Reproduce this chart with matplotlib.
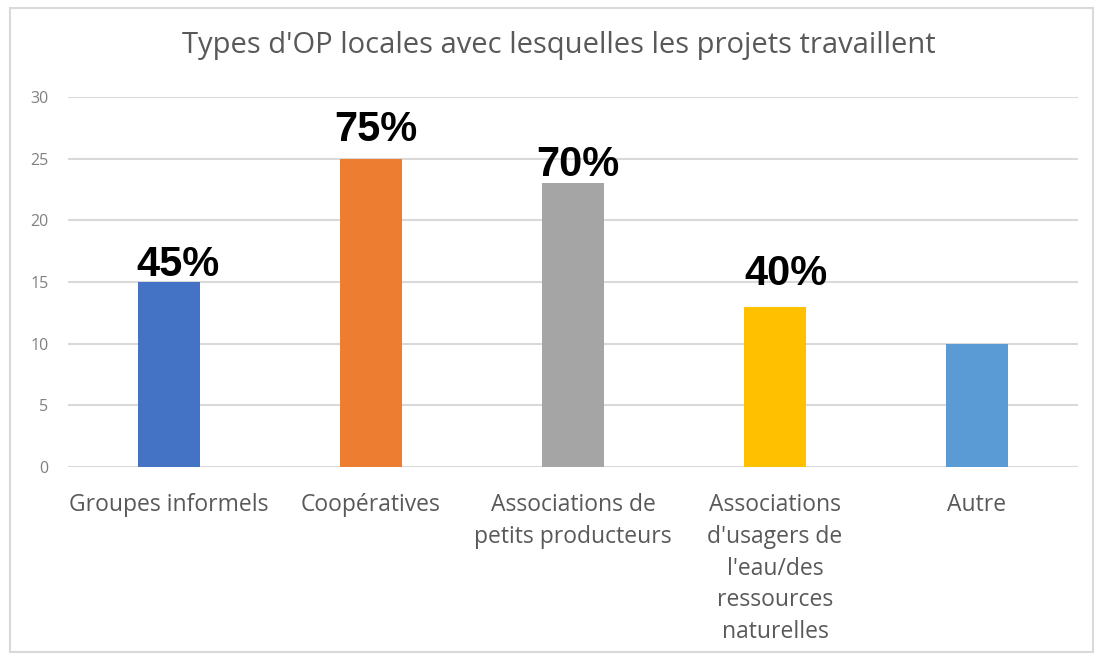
import matplotlib
matplotlib.use("Agg")
import matplotlib.pyplot as plt
from matplotlib.patches import Rectangle

# data
categories = [
    "Groupes informels",
    "Coopératives",
    "Associations de\npetits producteurs",
    "Associations\nd'usagers de\nl'eau/des\nressources\nnaturelles",
    "Autre",
]
counts = [15, 25, 23, 13, 10]
pct_labels = ["45%", "75%", "70%", "40%", ""]
yticks = [0, 5, 10, 15, 20, 25, 30]

# styling
bar_colors = ["#4472C4", "#ED7D31", "#A5A5A5", "#FFC000", "#5B9BD5"]
label_offsets = [(9, 6), (5, 18), (5, 7), (11, 22), (0, 0)]  # pixels
title = "Types d'OP locales avec lesquelles les projets travaillent"
font = "Open Sans"

fig = plt.figure(figsize=(10.95, 6.59), dpi=100)
ax = fig.add_axes([68 / 1095, (659 - 467) / 659, (1078 - 68) / 1095, (467 - 97) / 659])

x = range(len(categories))
ax.bar(x, counts, width=0.31, color=bar_colors, zorder=3)

for xi, val, lab, (dx, dy) in zip(x, counts, pct_labels, label_offsets):
    if not lab:
        continue
    ax.annotate(lab, xy=(xi, val), xytext=(dx, dy), textcoords="offset pixels",
                ha="center", va="baseline", fontsize=30, fontweight="bold",
                family="Liberation Sans", color="black", zorder=4)

ax.set_xlim(-0.5, len(categories) - 0.5)
ax.set_ylim(0, 30)
ax.set_yticks(yticks)
ax.set_xticks(list(x))
ax.set_xticklabels(categories, fontsize=16.5, family=font, color="#595959",
                   linespacing=1.44)
ax.tick_params(axis="y", labelsize=11.5, labelcolor="#808080", length=0, pad=14)
ax.tick_params(axis="x", length=0, pad=18.5)
for lbl in ax.get_yticklabels():
    lbl.set_family(font)

ax.grid(axis="y", color="#D9D9D9", linewidth=1.5, zorder=0)
for s in ax.spines.values():
    s.set_visible(False)

fig.text(559 / 1095, 1 - 53 / 659, title, ha="center", va="baseline",
         fontsize=21, family=font, color="#595959")

# light chart-area border
fig.patches.append(Rectangle((10 / 1095, 7 / 659), 1083 / 1095, 644 / 659,
                             transform=fig.transFigure, fill=False,
                             edgecolor="#D9D9D9", linewidth=1.5))

plt.savefig("out.png", dpi=100)
